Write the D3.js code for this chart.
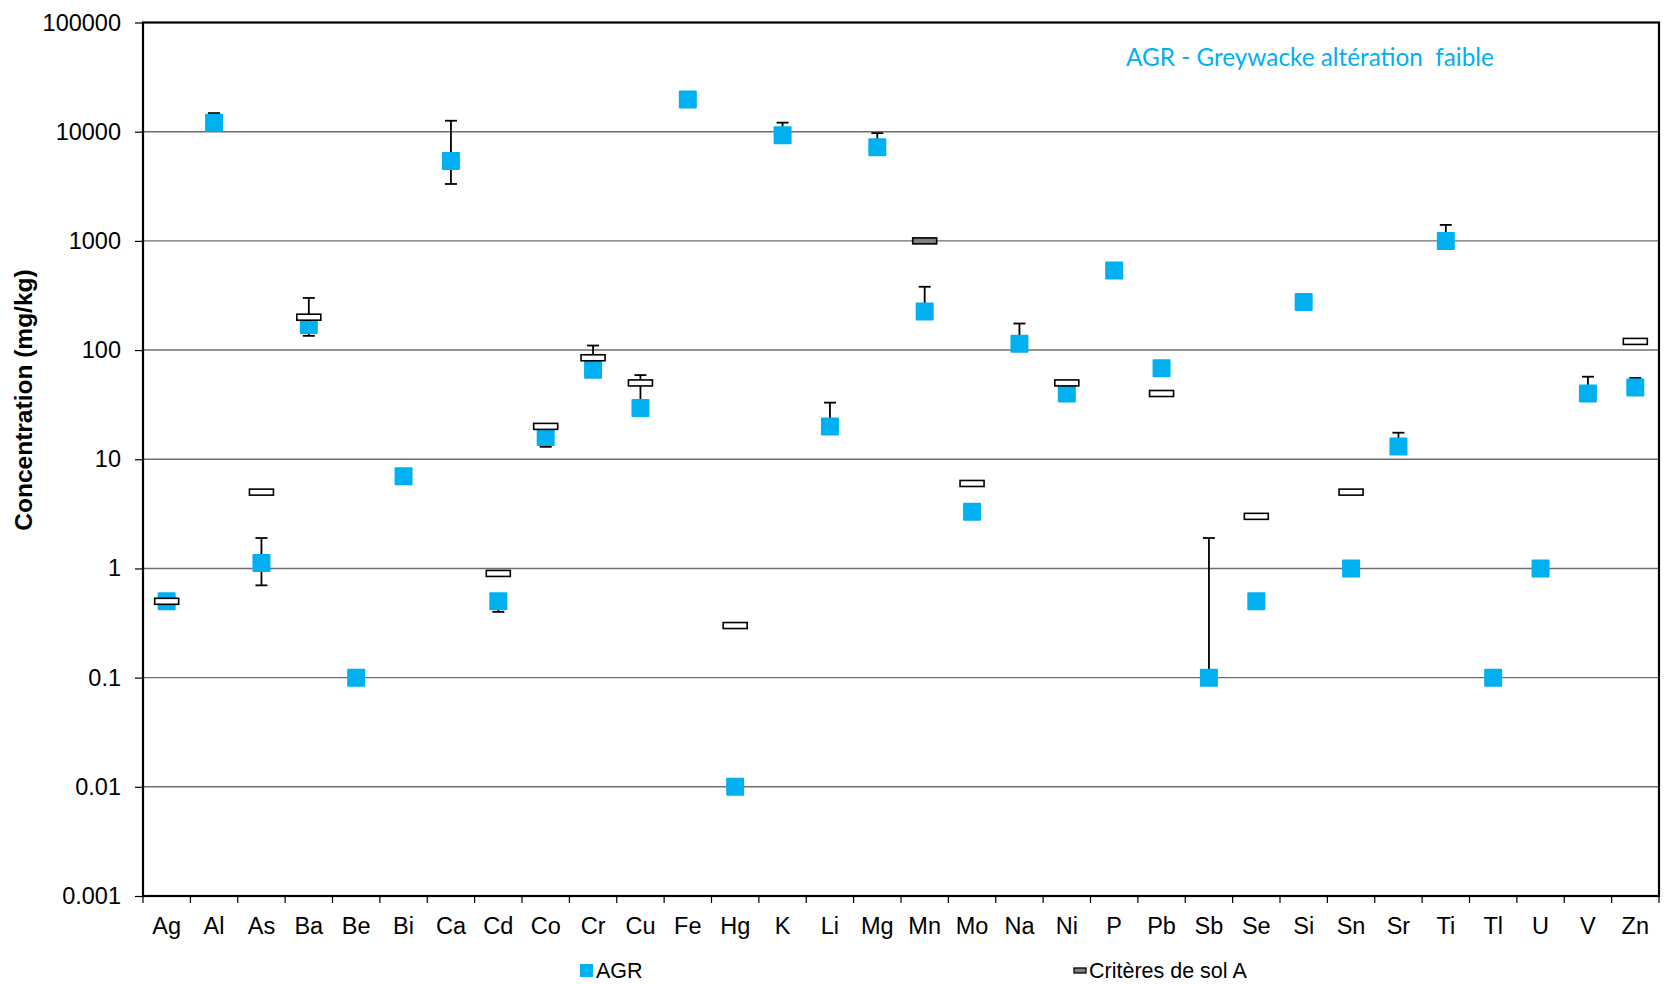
<!DOCTYPE html>
<html>
<head>
<meta charset="utf-8">
<script src="https://cdn.jsdelivr.net/npm/d3@7"></script>
<style>
  body{margin:0;background:#fff;}
  text{font-family:"Liberation Sans",Arial,sans-serif;}
</style>
</head>
<body>
<div id="container"></div>
<script>
let w=1667;
let h=984;

// chart values
let elements = ["Ag","Al","As","Ba","Be","Bi","Ca","Cd","Co","Cr","Cu","Fe","Hg","K","Li","Mg","Mn","Mo","Na","Ni","P","Pb","Sb","Se","Si","Sn","Sr","Ti","Tl","U","V","Zn"];
let agr    = [0.5,12100,1.12,170,0.1,7.0,5400,0.5,16,66,29.5,19700,0.01,9300,20,7200,225,3.3,114,40,535,68,0.1,0.5,276,1,13.1,1000,0.1,1,40,45.5];
let agrMin = [null,null,0.7,135,null,null,3320,0.4,13,null,null,null,null,null,null,null,null,null,null,null,null,null,null,null,null,null,null,null,null,null,null,null];
let agrMax = [null,14800,1.9,300,null,null,12600,null,null,110,59,null,null,12100,33,9700,380,null,175,null,null,null,1.9,null,null,null,17.5,1400,null,null,57,55.5];
let critereA = [0.5,null,5,200,null,null,null,0.9,20,85,50,null,0.3,null,null,null,1000,6,null,50,null,40,null,3,null,5,null,null,null,null,null,120];
let yTicks = [0.001,0.01,0.1,1,10,100,1000,10000,100000];

let blue = "#00B0F0";
let pLeft=143, pRight=1659, pTop=22.5, pBottom=896;

let viz = d3.select("#container")
  .append("svg")
    .attr("width",w)
    .attr("height",h)
;

let x = d3.scaleBand().domain(elements).range([pLeft,pRight]).padding(0);
let y = d3.scaleLog().domain([0.001,100000]).range([pBottom,pTop]);

// gridlines
viz.append("g").selectAll("line").data(yTicks.slice(1,-1)).enter()
  .append("line")
    .attr("x1",pLeft).attr("x2",pRight)
    .attr("y1",d=>y(d)).attr("y2",d=>y(d))
    .attr("stroke","#6e6e6e")
    .attr("stroke-width",1.4)
;

// y axis
let yAxis = viz.append("g")
  .attr("transform","translate("+pLeft+",0)")
  .call(d3.axisLeft(y).tickValues(yTicks).tickFormat(d=>String(d)).tickSize(8).tickPadding(14));
yAxis.select(".domain").remove();
yAxis.selectAll("text").style("font-size","23.5px").attr("fill","#000");
yAxis.selectAll("line").attr("stroke","#000").attr("stroke-width",1.2);

// x axis labels
let xAxis = viz.append("g")
  .attr("transform","translate(0,"+pBottom+")")
  .call(d3.axisBottom(x).tickSize(0).tickPadding(21));
xAxis.select(".domain").remove();
xAxis.selectAll("text").style("font-size","23.5px").attr("fill","#000");

// category boundary ticks
let edges = elements.map(d=>x(d)).concat([pRight]);
viz.append("g").selectAll("line").data(edges).enter()
  .append("line")
    .attr("x1",d=>d).attr("x2",d=>d)
    .attr("y1",pBottom).attr("y2",pBottom+7)
    .attr("stroke","#000").attr("stroke-width",1.2)
;

// plot frame
viz.append("rect")
  .attr("x",pLeft).attr("y",pTop)
  .attr("width",pRight-pLeft).attr("height",pBottom-pTop)
  .attr("fill","none").attr("stroke","#000").attr("stroke-width",2.2)
;

// y title
viz.append("text")
  .attr("transform","translate(32,400) rotate(-90)")
  .attr("text-anchor","middle")
  .style("font-size","24.5px")
  .style("font-weight","bold")
  .text("Concentration (mg/kg)")
;

// error bars (behind squares)
let rows = elements.map((d,i)=>({el:d,v:agr[i],lo:agrMin[i],hi:agrMax[i],crit:critereA[i]}));
let bars = viz.append("g").selectAll("g").data(rows.filter(d=>d.lo!=null||d.hi!=null)).enter()
  .append("g")
    .attr("transform",d=>"translate("+(x(d.el)+x.bandwidth()/2)+",0)")
;
bars.append("line")
  .attr("y1",d=>y(d.lo!=null?d.lo:d.v))
  .attr("y2",d=>y(d.hi!=null?d.hi:d.v))
  .attr("stroke","#000").attr("stroke-width",1.8)
;
bars.filter(d=>d.hi!=null).append("line")
  .attr("x1",-6).attr("x2",6)
  .attr("y1",d=>y(d.hi)).attr("y2",d=>y(d.hi))
  .attr("stroke","#000").attr("stroke-width",1.8)
;
bars.filter(d=>d.lo!=null).append("line")
  .attr("x1",-6).attr("x2",6)
  .attr("y1",d=>y(d.lo)).attr("y2",d=>y(d.lo))
  .attr("stroke","#000").attr("stroke-width",1.8)
;

// AGR squares
let sq=18;
viz.append("g").selectAll("rect").data(rows).enter()
  .append("rect")
    .attr("x",d=>x(d.el)+x.bandwidth()/2-sq/2)
    .attr("y",d=>y(d.v)-sq/2)
    .attr("width",sq).attr("height",sq)
    .attr("rx",1)
    .attr("fill",blue)
;

// soil criteria A markers
viz.append("g").selectAll("rect").data(rows.filter(d=>d.crit!=null)).enter()
  .append("rect")
    .attr("x",d=>x(d.el)+x.bandwidth()/2-12)
    .attr("y",d=>y(d.crit)-3)
    .attr("width",24).attr("height",6)
    .attr("fill",d=>(Math.log10(d.crit)%1===0)?"#808080":"#fff")
    .attr("stroke","#000").attr("stroke-width",1.6)
;

// annotation
viz.append("text")
  .attr("x",1126).attr("y",66)
  .attr("fill",blue)
  .style("font-family","Lato, 'Open Sans', sans-serif")
  .style("font-size","24.3px")
  .attr("xml:space","preserve")
  .text("AGR - Greywacke altération  faible")
;

// legend
viz.append("rect")
  .attr("x",580).attr("y",964).attr("width",13).attr("height",13)
  .attr("fill",blue)
;
viz.append("text")
  .attr("x",596).attr("y",978)
  .style("font-size","21.5px")
  .text("AGR")
;
viz.append("rect")
  .attr("x",1074).attr("y",968).attr("width",12).attr("height",5)
  .attr("fill","#808080").attr("stroke","#000").attr("stroke-width",1.3)
;
viz.append("text")
  .attr("x",1089).attr("y",978)
  .style("font-size","21.5px")
  .text("Critères de sol A")
;
</script>
</body>
</html>
